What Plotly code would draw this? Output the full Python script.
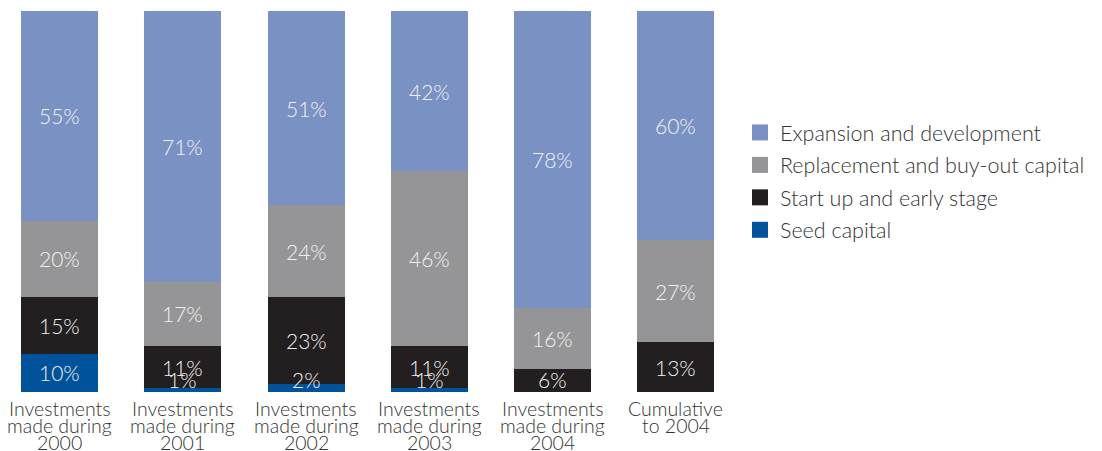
import plotly.graph_objects as go

# Investment stage mix per period (percent of amount invested)
categories = ["2000", "2001", "2002", "2003", "2004", "Cumulative"]
tick_lines = [
    ["Investments", "made during", "2000"],
    ["Investments", "made during", "2001"],
    ["Investments", "made during", "2002"],
    ["Investments", "made during", "2003"],
    ["Investments", "made during", "2004"],
    ["Cumulative", "to 2004"],
]
seed_capital = [10, 1, 2, 1, 0, 0]
start_up = [15, 11, 23, 11, 6, 13]
replacement = [20, 17, 24, 46, 16, 27]
expansion = [55, 71, 51, 42, 78, 60]

series = [
    ("Seed capital", seed_capital, "#00539b"),
    ("Start up and early stage", start_up, "#231f20"),
    ("Replacement and buy-out capital", replacement, "#959597"),
    ("Expansion and development", expansion, "#7a91c3"),
]

FONT = "Lato"
fig = go.Figure()
for i, (name, vals, color) in enumerate(series):
    fig.add_trace(go.Bar(
        x=categories, y=vals, name=name, marker_color=color,
        marker_line_width=0, showlegend=False, hoverinfo="skip",
    ))
    # legend entry with a larger square swatch
    fig.add_trace(go.Scatter(
        x=[None], y=[None], mode="markers", name=name,
        marker=dict(symbol="square", size=16, color=color),
        legendgroup=str(i), legendrank=len(series) - i,
    ))

# Percentage labels placed inside each stacked segment
annotations = []
base = [0] * len(categories)
for name, vals, color in series:
    for j, v in enumerate(vals):
        if v > 0:
            yc = max(base[j] + v / 2, 3.3)
            annotations.append(dict(
                x=j, y=yc, xref="x", yref="y",
                text=f"{v}%", showarrow=False,
                font=dict(family=FONT, size=21, color="#f2f2f2", weight=300),
            ))
        base[j] += v

# Multi-line category labels under the bars
for j, lines in enumerate(tick_lines):
    for k, line in enumerate(lines):
        annotations.append(dict(
            x=j, y=0, xref="x", yref="paper",
            yanchor="middle", yshift=-16 - 17 * k,
            text=line, showarrow=False,
            font=dict(family=FONT, size=19.5, color="#333333", weight=300),
        ))

fig.update_layout(
    width=1102, height=451,
    margin=dict(l=0, r=0, t=11, b=59),
    barmode="stack", bargap=0.375,
    plot_bgcolor="white", paper_bgcolor="white",
    xaxis=dict(type="category", domain=[0, 740 / 1102], range=[-0.4835, 5.52],
               showticklabels=False, showgrid=False, zeroline=False,
               showline=False, ticks=""),
    yaxis=dict(range=[0, 100], visible=False),
    showlegend=True,
    legend=dict(
        x=740 / 1102, xanchor="left", y=0.735, yanchor="top",
        traceorder="grouped", tracegroupgap=1.5,
        font=dict(family=FONT, size=21.5, color="#333333", weight=300),
        bgcolor="rgba(0,0,0,0)",
    ),
    annotations=annotations,
)

fig.write_html("out.html")
